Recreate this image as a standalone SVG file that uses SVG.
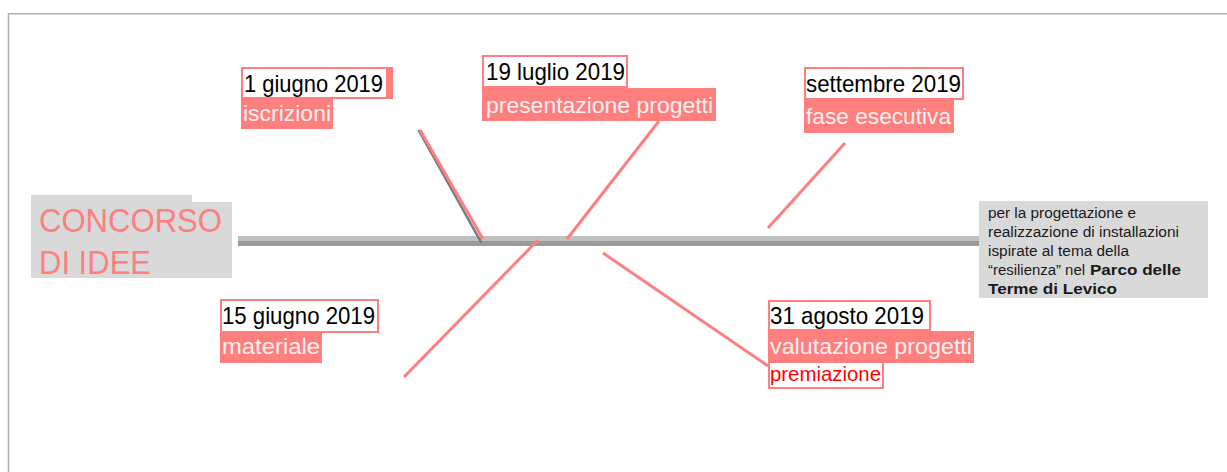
<svg xmlns="http://www.w3.org/2000/svg" width="1227" height="472" viewBox="0 0 1227 472">
<defs>
<style>
.frame{fill:none;stroke:#b0b0b0;stroke-width:1.5}
.pk{fill:#ff7f7f}
.wh{fill:#ffffff}
.date{font-family:"Liberation Sans",Arial,sans-serif;font-size:24px;fill:#000}
.sub{font-family:"Liberation Sans",Arial,sans-serif;font-size:22px;fill:#f4f0f0}
.red{font-family:"Liberation Sans",Arial,sans-serif;font-size:21px;fill:#ff0000}
.bone{stroke:#ff7f7f;stroke-width:3;fill:none;stroke-linecap:butt}
.title{font-family:"Liberation Sans",Arial,sans-serif;font-size:33px;fill:#ff7f7f}
.desc{font-family:"Liberation Sans",Arial,sans-serif;font-size:15.5px;fill:#1a1a1a}
.b{font-weight:bold}
</style>
</defs>
<rect width="1227" height="472" fill="#ffffff"/>
<path class="frame" d="M8.5,472 V13.75 H1227"/>

<g id="connectors">
<rect x="238" y="236" width="741" height="5" fill="#c0c0c0"/>
<rect x="238" y="241" width="741" height="5" fill="#9a9a9a"/>
<line x1="418.5" y1="130" x2="481.5" y2="243" stroke="#7a7a7a" stroke-width="2.5"/>
<line class="bone" x1="420" y1="130" x2="483" y2="239"/>
<line class="bone" x1="567" y1="239" x2="659" y2="121"/>
<line class="bone" x1="768" y1="228" x2="845" y2="143"/>
<line class="bone" x1="538" y1="240" x2="404" y2="377"/>
<line class="bone" x1="603" y1="253" x2="768" y2="366"/>
</g>

<g id="title">
<rect x="31" y="195" width="161" height="10" fill="#d9d9d9"/>
<rect x="31" y="202" width="201" height="76" fill="#d9d9d9"/>
<text class="title" x="39" y="232" textLength="183" lengthAdjust="spacingAndGlyphs">CONCORSO</text>
<text class="title" x="39" y="274" textLength="112" lengthAdjust="spacingAndGlyphs">DI IDEE</text>
</g>

<g id="desc">
<rect x="979" y="201" width="229" height="97" fill="#d9d9d9"/>
<text class="desc" x="988" y="218" textLength="148" lengthAdjust="spacingAndGlyphs">per la progettazione e</text>
<text class="desc" x="988" y="237" textLength="191" lengthAdjust="spacingAndGlyphs">realizzazione di installazioni</text>
<text class="desc" x="988" y="256" textLength="141" lengthAdjust="spacingAndGlyphs">ispirate al tema della</text>
<text class="desc" x="988" y="275" textLength="97" lengthAdjust="spacingAndGlyphs">“resilienza” nel</text>
<text class="desc b" x="1090" y="275" textLength="91" lengthAdjust="spacingAndGlyphs">Parco delle</text>
<text class="desc b" x="988" y="294" textLength="129" lengthAdjust="spacingAndGlyphs">Terme di Levico</text>
</g>

<g id="n1">
<rect class="pk" x="241" y="67" width="152" height="32"/>
<rect class="wh" x="243" y="69" width="143" height="28"/>
<text class="date" x="244" y="92" textLength="139" lengthAdjust="spacingAndGlyphs">1 giugno 2019</text>
<rect class="pk" x="241" y="99" width="92" height="30"/>
<text class="sub" x="243" y="121" textLength="88" lengthAdjust="spacingAndGlyphs">iscrizioni</text>
</g>

<g id="n2">
<rect class="pk" x="482" y="55" width="146" height="33"/>
<rect class="wh" x="484" y="57" width="142" height="29"/>
<text class="date" x="486" y="80" textLength="139" lengthAdjust="spacingAndGlyphs">19 luglio 2019</text>
<rect class="pk" x="482" y="88" width="234" height="33"/>
<text class="sub" x="486" y="113" textLength="227" lengthAdjust="spacingAndGlyphs">presentazione progetti</text>
</g>

<g id="n3">
<rect class="pk" x="804" y="67" width="160" height="33"/>
<rect class="wh" x="806" y="69" width="156" height="29"/>
<text class="date" x="806" y="92" textLength="155" lengthAdjust="spacingAndGlyphs">settembre 2019</text>
<rect class="pk" x="804" y="100" width="150" height="33"/>
<text class="sub" x="806" y="124" textLength="145" lengthAdjust="spacingAndGlyphs">fase esecutiva</text>
</g>

<g id="n4">
<rect class="pk" x="220" y="299" width="159" height="34"/>
<rect class="wh" x="222" y="301" width="155" height="30"/>
<text class="date" x="222" y="324" textLength="153" lengthAdjust="spacingAndGlyphs">15 giugno 2019</text>
<rect class="pk" x="220" y="333" width="102" height="30"/>
<text class="sub" x="222" y="354" textLength="98" lengthAdjust="spacingAndGlyphs">materiale</text>
</g>

<g id="n5">
<rect class="pk" x="768" y="300" width="163" height="31"/>
<rect class="wh" x="770" y="302" width="159" height="27"/>
<text class="date" x="770" y="324" textLength="154" lengthAdjust="spacingAndGlyphs">31 agosto 2019</text>
<rect class="pk" x="768" y="331" width="206" height="32"/>
<text class="sub" x="770" y="354" textLength="202" lengthAdjust="spacingAndGlyphs">valutazione progetti</text>
<rect class="pk" x="768" y="363" width="116" height="26"/>
<rect class="wh" x="770" y="363" width="112" height="24"/>
<text class="red" x="770" y="381" textLength="111" lengthAdjust="spacingAndGlyphs">premiazione</text>
</g>
</svg>
